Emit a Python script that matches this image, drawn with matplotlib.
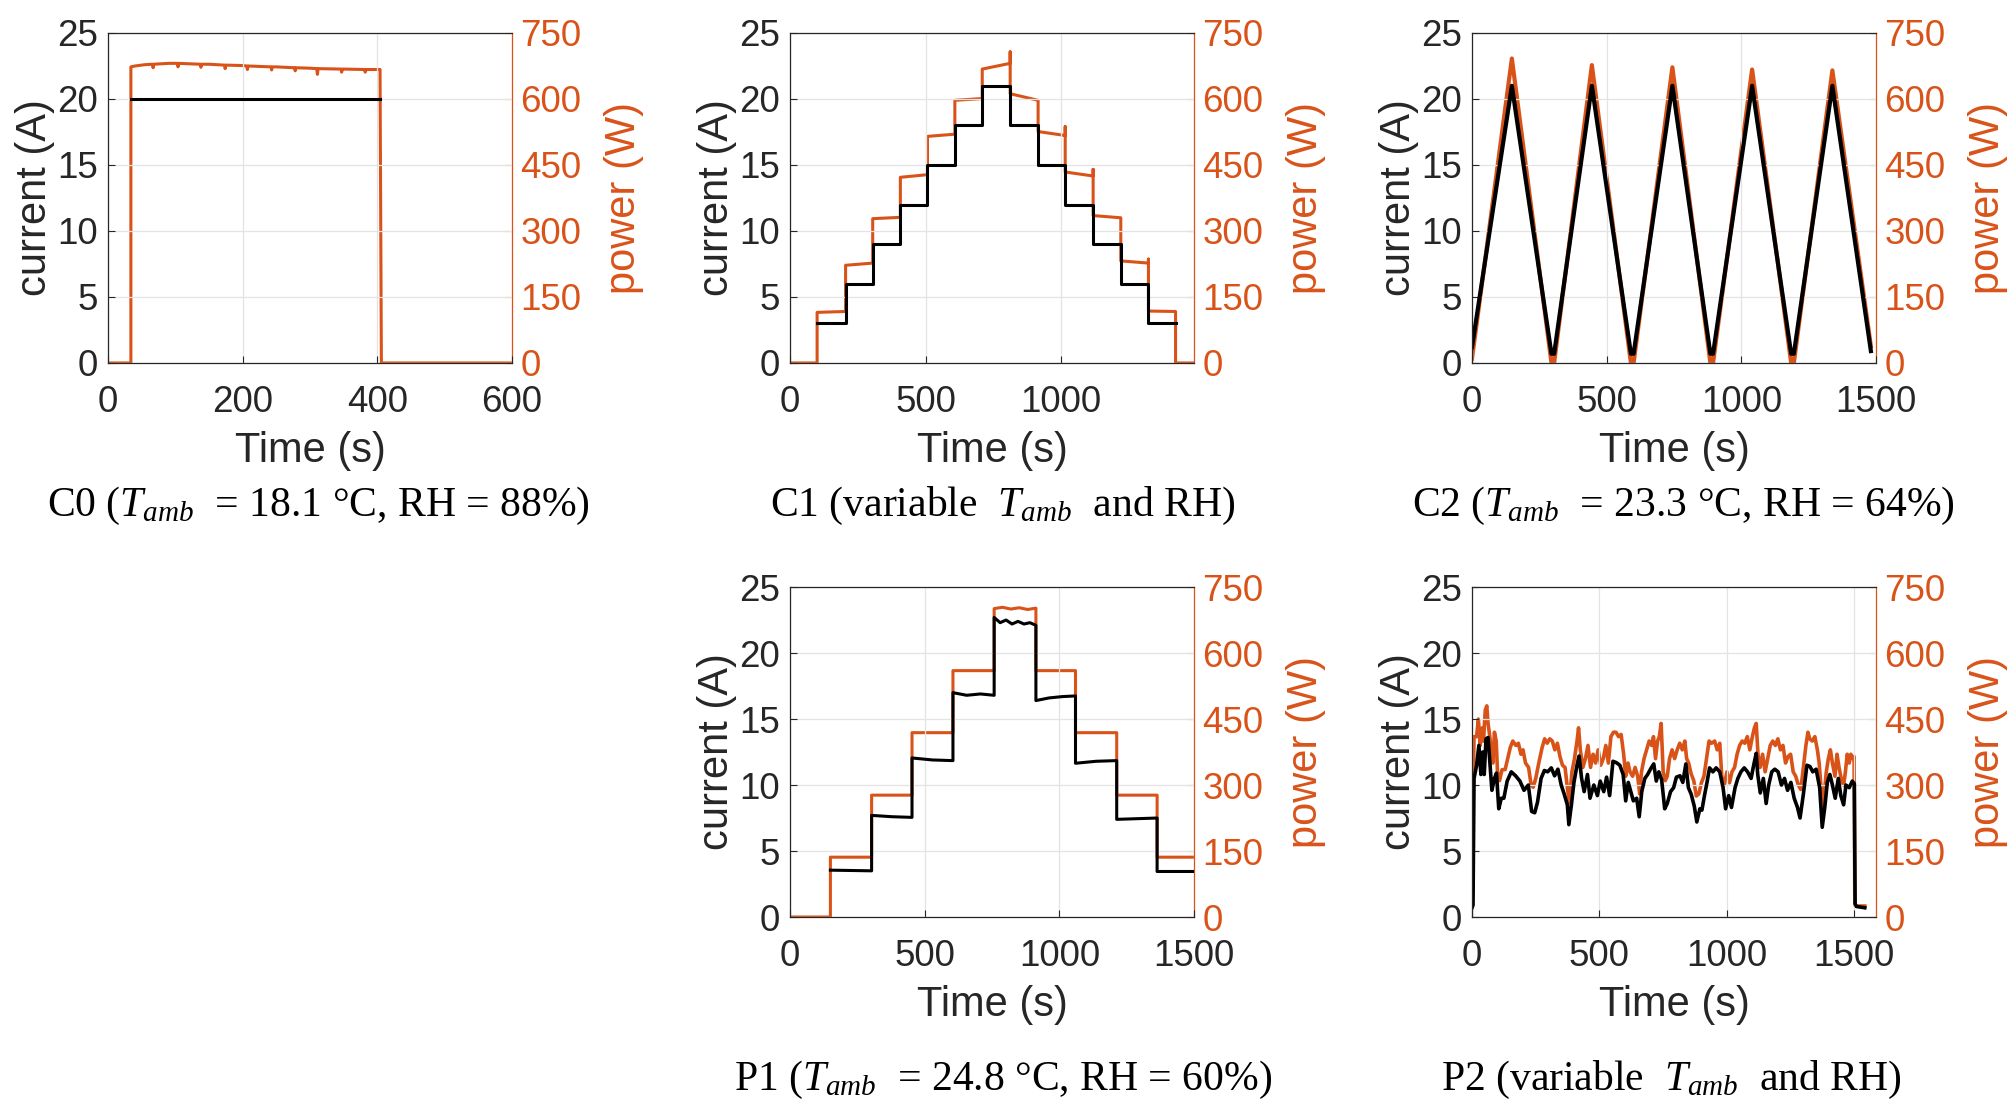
import matplotlib
matplotlib.use('Agg')
import matplotlib.pyplot as plt

plt.rcParams['font.family'] = ['Liberation Sans', 'DejaVu Sans']
plt.rcParams['mathtext.fontset'] = 'custom'
plt.rcParams['mathtext.rm'] = 'Liberation Serif'
plt.rcParams['mathtext.it'] = 'Liberation Serif:italic'

ORANGE = '#D95319'
DARK = '#262626'

# ---- C0: constant current ----
c0_cur_t = [34, 404]
c0_cur = [19.97, 19.97]
c0_pow_t = [0, 34, 34, 40, 55, 66, 67, 68, 90, 103, 104, 105, 137, 138, 139, 150,
            173, 174, 175, 200, 206, 207, 208, 242, 243, 244, 250, 277, 278, 279,
            300, 310, 311, 312, 346, 347, 348, 350, 381, 382, 383, 404, 406, 600]
c0_pow = [0, 0, 673, 675, 678, 679, 671, 679, 681, 681, 673, 681, 679, 672, 679, 679,
          677, 669, 677, 676, 675, 667, 675, 673, 666, 673, 673, 671, 664, 671,
          670, 669, 656, 669, 668, 661, 668, 668, 667, 661, 667, 667, 0, 0]

# ---- C1: staircase up / down ----
c1_edges = [100, 205, 305, 407, 507, 608, 709, 812, 915, 1015, 1118, 1220, 1322, 1422]
c1_cur = [3, 6, 9, 12, 15, 18, 21, 18, 15, 12, 9, 6, 3]
c1_pow_start = [115, 222, 328, 422, 515, 597, 668, 612, 526, 434, 335, 232, 118]
c1_pow_end = [117, 227, 331, 428, 520, 601, 681, 597, 517, 425, 330, 227, 117]
c1_spikes = {812: 707, 1015: 537, 1118: 440, 1322: 236}

# ---- C2: triangular ramps ----
c2_cur_t = [0, 148, 295, 305, 445, 590, 600, 744, 885, 895, 1040, 1185, 1195, 1338, 1481]
c2_cur = [1.2, 21, 0.7, 0.7, 21, 0.7, 0.7, 21, 0.7, 0.7, 21, 0.7, 0.7, 21, 0.9]
c2_pow_t = [0, 148, 295, 305, 445, 590, 600, 744, 885, 895, 1040, 1185, 1195, 1338, 1481]
c2_pow = [10, 692, 0, 0, 677, 0, 0, 672, 0, 0, 667, 0, 0, 665, 38]

# ---- P1: power staircase ----
p1_edges = [150, 303, 453, 605, 758, 913, 1060, 1213, 1363, 1500]
p1_cur_levels = [[3.55, 3.5], [7.7, 7.6, 7.55], [12.05, 11.9, 11.85], [17.0, 16.8, 16.9, 16.8],
                 [22.7, 22.3, 22.5, 22.2, 22.4, 22.2, 22.3, 22.1], [16.4, 16.6, 16.7, 16.75],
                 [11.65, 11.8, 11.85], [7.4, 7.45, 7.5], [3.45, 3.45]]
p1_pow_levels = [[136, 136], [277, 277], [419, 419], [560, 560],
                 [701, 704, 700, 703, 699, 702], [560, 560], [419, 419], [277, 277], [136, 136]]

# ---- P2: real driving profile ----
p2_cur_t = [0, 4, 8, 18, 27, 35, 42, 48, 55, 63, 71, 78, 88, 96, 105, 115, 125, 138, 154,
            171, 188, 204, 221, 234, 246, 257, 271, 284, 297, 311, 324, 337, 350, 362, 374,
            380, 390, 400, 412, 420, 430, 440, 453, 463, 478, 492, 503, 517, 528, 540, 553,
            566, 580, 593, 603, 613, 623, 633, 646, 656, 666, 678, 689, 703, 713, 723, 733,
            744, 756, 766, 779, 791, 802, 816, 827, 839, 849, 860, 872, 882, 894, 902, 912,
            922, 932, 945, 958, 972, 985, 995, 1007, 1018, 1032, 1043, 1055, 1068, 1081,
            1095, 1105, 1115, 1121, 1131, 1143, 1154, 1164, 1176, 1188, 1201, 1214, 1226,
            1238, 1251, 1264, 1277, 1287, 1300, 1314, 1326, 1337, 1350, 1364, 1374, 1384,
            1394, 1404, 1414, 1425, 1437, 1447, 1458, 1467, 1480, 1492, 1500, 1503, 1508, 1541]
p2_cur = [0.7, 0.9, 10.5, 11.5, 13.0, 10.8, 12.5, 10.8, 13.5, 13.6, 11.5, 9.6, 10.5, 10.9,
          8.2, 9.0, 9.0, 10.3, 11.0, 10.7, 10.3, 9.6, 10.0, 8.0, 7.9, 8.7, 10.5, 11.1, 11.0,
          11.3, 10.7, 11.2, 10.0, 9.3, 8.5, 7.0, 8.5, 10.2, 11.5, 12.2, 10.5, 9.5, 10.8, 9.0,
          10.0, 9.2, 10.3, 9.5, 10.6, 9.2, 11.8, 11.7, 11.5, 10.8, 8.8, 10.2, 9.5, 8.8, 9.0,
          7.6, 9.5, 10.5, 10.8, 11.3, 11.6, 10.3, 11.0, 10.4, 8.2, 8.6, 9.5, 9.8, 10.6, 10.7,
          10.2, 11.6, 9.8, 9.3, 8.4, 7.2, 8.2, 8.1, 9.2, 10.2, 11.3, 11.0, 11.3, 11.0, 9.8,
          8.2, 9.2, 8.3, 9.8, 10.5, 11.0, 11.3, 11.0, 10.5, 11.5, 12.4, 10.8, 9.4, 10.5, 8.6,
          10.0, 11.0, 11.2, 11.0, 10.0, 10.5, 9.6, 10.2, 9.0, 8.3, 7.5, 9.3, 11.5, 11.4, 11.0,
          11.2, 9.8, 6.8, 8.3, 10.2, 10.8, 10.0, 9.0, 10.5, 9.2, 8.5, 10.0, 9.8, 10.3, 10.1,
          1.0, 0.8, 0.7]
p2_pow_t = [0, 3, 5, 8, 18, 25, 32, 40, 45, 52, 58, 63, 70, 76, 82, 88, 95, 100, 108, 118,
            130, 140, 150, 160, 172, 182, 192, 200, 210, 222, 232, 240, 250, 262, 275, 285,
            295, 305, 315, 325, 335, 345, 355, 365, 375, 382, 392, 402, 412, 418, 425, 435,
            445, 455, 465, 475, 485, 495, 505, 515, 525, 535, 545, 555, 565, 575, 585, 595,
            603, 612, 620, 630, 640, 650, 658, 665, 675, 685, 695, 705, 712, 720, 728, 735,
            742, 750, 758, 766, 775, 785, 795, 805, 815, 825, 835, 842, 850, 860, 870, 880,
            890, 900, 910, 920, 930, 940, 952, 962, 972, 980, 990, 1000, 1010, 1020, 1030,
            1040, 1050, 1060, 1070, 1080, 1090, 1100, 1108, 1115, 1122, 1130, 1140, 1150,
            1160, 1170, 1180, 1190, 1200, 1210, 1220, 1230, 1240, 1250, 1260, 1270, 1280,
            1290, 1300, 1310, 1318, 1325, 1335, 1345, 1355, 1362, 1370, 1376, 1382, 1390,
            1398, 1406, 1414, 1424, 1432, 1440, 1450, 1458, 1465, 1472, 1480, 1486, 1495,
            1499, 1502, 1505, 1541]
p2_pow = [30, 60, 310, 410, 410, 450, 390, 430, 400, 470, 480, 440, 410, 370, 350, 420,
          400, 330, 310, 335, 335, 360, 385, 400, 390, 395, 370, 380, 350, 340, 300, 295,
          315, 350, 385, 405, 395, 405, 400, 380, 395, 365, 345, 340, 290, 260, 330, 360,
          400, 430, 380, 340, 360, 390, 340, 370, 350, 380, 345, 360, 390, 350, 410, 420,
          420, 410, 415, 370, 320, 350, 330, 320, 340, 320, 280, 330, 360, 380, 400, 390,
          410, 360, 400, 410, 440, 330, 310, 320, 360, 380, 360, 380, 395, 380, 400, 360,
          350, 325, 310, 275, 280, 305, 320, 360, 400, 395, 400, 380, 395, 320, 300, 330,
          305, 330, 340, 370, 390, 400, 395, 410, 380, 410, 430, 440, 370, 340, 370, 330,
          360, 390, 400, 390, 405, 380, 390, 350, 365, 370, 330, 320, 300, 290, 340, 390,
          420, 405, 400, 410, 380, 350, 290, 250, 280, 330, 360, 380, 350, 320, 370, 340,
          310, 300, 330, 370, 350, 370, 360, 365, 30, 25, 25]

captions = [
    'C0 ($T_{amb}$  = 18.1 °C, RH = 88%)',
    'C1 (variable  $T_{amb}$  and RH)',
    'C2 ($T_{amb}$  = 23.3 °C, RH = 64%)',
    'P1 ($T_{amb}$  = 24.8 °C, RH = 60%)',
    'P2 (variable  $T_{amb}$  and RH)',
]


def stairs(edges, levels, spikes=None):
    # plateau i runs from edges[i] to edges[i+1]; read values spread along it
    xs, ys = [], []
    for i, vals in enumerate(levels):
        t0, t1 = edges[i], edges[i + 1]
        n = len(vals)
        for k, v in enumerate(vals):
            xs.append(t0 + (t1 - t0) * k / (n - 1))
            ys.append(v)
        if spikes and t1 in spikes:
            xs.append(t1)
            ys.append(spikes[t1])
    return xs, ys


def make_panel(rect, xlim, xticks):
    ax = fig.add_axes(rect)
    ax2 = ax.twinx()
    ax.set_zorder(ax2.get_zorder() + 1)
    ax.patch.set_visible(False)
    ax.set_xlim(*xlim)
    ax.set_ylim(0, 25)
    ax2.set_ylim(0, 750)
    ax.set_xticks(xticks)
    ax.set_yticks([0, 5, 10, 15, 20, 25])
    ax2.set_yticks([0, 150, 300, 450, 600, 750])
    ax.grid(True, color='#e3e3e3', linewidth=0.9)
    ax.set_axisbelow(True)
    ax.tick_params(axis='both', direction='in', length=5, width=0.8, colors=DARK,
                   labelsize=26.5)
    ax.tick_params(axis='x', pad=16)
    ax.tick_params(axis='y', pad=7)
    ax2.tick_params(axis='y', direction='in', length=5, width=0.8, colors=ORANGE,
                    labelsize=26.5, pad=6)
    for side in ['left', 'top', 'bottom']:
        ax.spines[side].set_color(DARK)
        ax.spines[side].set_linewidth(0.9)
    ax2.spines['right'].set_color(ORANGE)
    ax2.spines['right'].set_linewidth(0.9)
    for s in ['left', 'top', 'bottom']:
        ax2.spines[s].set_visible(False)
    ax.spines['right'].set_visible(False)
    ax.set_xlabel('Time (s)', fontsize=30, color=DARK, labelpad=8)
    ax.set_ylabel('current (A)', fontsize=30, color=DARK, labelpad=2)
    ax2.set_ylabel('power (W)', fontsize=30, color=ORANGE, labelpad=16)
    return ax, ax2


fig = plt.figure(figsize=(20.16, 11.11), dpi=100)

W, H = 0.2004, 0.297
top_b, bot_b = 0.6733, 0.1746
lefts = [108 / 2016, 790 / 2016, 1472 / 2016]
lw = 2.2

# C0
ax, ax2 = make_panel([lefts[0], top_b, W, H], (0, 600), [0, 200, 400, 600])
ax2.plot(c0_pow_t, c0_pow, color=ORANGE, lw=lw)
ax.plot(c0_cur_t, c0_cur, color='black', lw=lw)

# C1
ax, ax2 = make_panel([lefts[1], top_b, W, H], (0, 1490), [0, 500, 1000])
c1_pow_levels = [[a, b] for a, b in zip(c1_pow_start, c1_pow_end)]
px, py = stairs(c1_edges, c1_pow_levels, c1_spikes)
ax2.plot([0, c1_edges[0]] + px + [c1_edges[-1], 1490], [0, 0] + py + [0, 0],
         color=ORANGE, lw=lw)
cx, cy = stairs(c1_edges, [[v, v] for v in c1_cur])
ax.plot(cx, cy, color='black', lw=lw)

# C2
ax, ax2 = make_panel([lefts[2], top_b, W, H], (0, 1500), [0, 500, 1000, 1500])
ax2.plot(c2_pow_t, c2_pow, color=ORANGE, lw=lw + 0.8)
ax.plot(c2_cur_t, c2_cur, color='black', lw=lw + 0.8)

# P1
ax, ax2 = make_panel([lefts[1], bot_b, W, H], (0, 1500), [0, 500, 1000, 1500])
px, py = stairs(p1_edges, p1_pow_levels)
ax2.plot([0, p1_edges[0]] + px, [0, 0] + py, color=ORANGE, lw=lw)
cx, cy = stairs(p1_edges, p1_cur_levels)
ax.plot(cx, cy, color='black', lw=lw)

# P2
ax, ax2 = make_panel([lefts[2], bot_b, W, H], (0, 1585), [0, 500, 1000, 1500])
ax2.plot(p2_pow_t, p2_pow, color=ORANGE, lw=lw + 0.4)
ax.plot(p2_cur_t, p2_cur, color='black', lw=lw + 0.4)

cap_pos = [(0.158, 0.5445), (0.4975, 0.5445), (0.835, 0.5445),
           (0.4975, 0.028), (0.829, 0.028)]
for (x, y), txt in zip(cap_pos, captions):
    fig.text(x, y, txt, ha='center', va='center', fontsize=30,
             family='Liberation Serif', color='black')

fig.savefig('out.png', dpi=100)
plt.close(fig)
